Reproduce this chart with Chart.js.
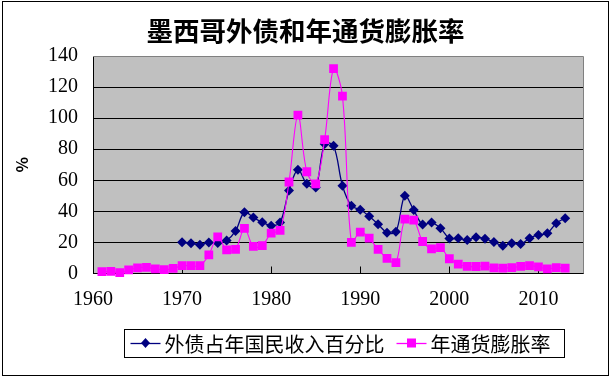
<!DOCTYPE html>
<html><head><meta charset="utf-8">
<script src="https://cdn.jsdelivr.net/npm/chart.js@4/dist/chart.umd.min.js"></script>
<style>html,body{margin:0;padding:0;background:#fff}#wrap{width:611px;height:377px}</style>
</head><body><div id="wrap"><canvas id="c" width="611" height="377"></canvas></div>
<script>
const titleText = '墨西哥外债和年通货膨胀率';
const seriesNames = ['外债占年国民收入百分比', '年通货膨胀率'];
const yAxisTitle = '%';
const years = [1961,1962,1963,1964,1965,1966,1967,1968,1969,1970,
  1971,1972,1973,1974,1975,1976,1977,1978,1979,1980,
  1981,1982,1983,1984,1985,1986,1987,1988,1989,1990,
  1991,1992,1993,1994,1995,1996,1997,1998,1999,2000,
  2001,2002,2003,2004,2005,2006,2007,2008,2009,2010,
  2011,2012,2013];
const debtRatio = [null,null,null,null,null,null,null,null,null,20.1,
  19.5,18.5,19.9,19.7,21.2,27.4,39.5,36.0,33.0,30.8,
  32.8,53.4,66.8,57.7,55.4,83.4,82.3,56.5,43.6,41.0,
  36.9,31.7,26.3,26.8,50.0,40.8,31.5,32.8,29.2,22.5,
  22.7,21.5,23.4,22.3,20.3,17.9,19.5,19.0,22.7,24.8,
  25.9,32.4,35.6];
const inflation = [1.2,1.3,0.5,2.3,3.6,4.0,3.0,2.5,3.3,5.0,
  5.0,5.0,12.0,23.6,15.2,15.6,29.0,17.4,17.9,26.0,
  27.7,58.9,101.9,65.5,57.7,86.2,131.8,114.2,20.0,26.7,
  22.7,15.5,9.8,7.0,35.0,34.4,20.6,15.9,16.6,9.5,
  6.0,4.6,4.5,4.7,3.6,3.5,3.8,4.6,5.1,4.2,
  3.0,3.8,3.5];
const xTicks = [1960,1970,1980,1990,2000,2010];
const yTicks = [0,20,40,60,80,100,120,140];

const NAVY = '#000080', MAGENTA = '#FF00FF';
const serif = "'Liberation Serif', 'Times New Roman', serif";
const cjk = "'Noto Sans CJK SC', sans-serif";

const framePlugin = {
  id: 'frame',
  afterLayout(chart) {
    const t = chart.titleBlock;
    if (t) { t.left += 12; t.right += 12; }
  },
  beforeDraw(chart) {
    const {ctx, chartArea: a} = chart;
    ctx.save();
    ctx.fillStyle = '#fff';
    ctx.fillRect(0, 0, chart.width, chart.height);
    ctx.fillStyle = '#C0C0C0';
    ctx.fillRect(a.left, a.top, a.right - a.left, a.bottom - a.top);
    ctx.restore();
  },
  beforeDatasetsDraw(chart) {
    const {ctx, chartArea: a, scales} = chart;
    ctx.save();
    ctx.strokeStyle = '#808080';
    ctx.lineWidth = 1;
    ctx.beginPath();
    ctx.moveTo(a.left, a.top + 0.5); ctx.lineTo(a.right + 0.5, a.top + 0.5);
    ctx.lineTo(a.right + 0.5, a.bottom);
    ctx.stroke();
    ctx.strokeStyle = '#000';
    ctx.beginPath();
    xTicks.forEach(v => {
      const px = Math.round(scales.x.getPixelForValue(v)) + 0.5;
      if (px > a.left + 2) { ctx.moveTo(px, a.bottom); ctx.lineTo(px, a.bottom - 7); }
    });
    ctx.stroke();
    ctx.restore();
  },
  afterDraw(chart) {
    const {ctx} = chart;
    ctx.save();
    ctx.font = '20px ' + cjk;
    ctx.textBaseline = 'middle';
    ctx.textAlign = 'left';
    const sampleW = 30, gap = 4, itemGap = 12;
    const widths = seriesNames.map(n => sampleW + gap + ctx.measureText(n).width);
    const total = widths.reduce((s, w) => s + w, 0) + itemGap * (widths.length - 1);
    const cx = 337.5, cy = 343;
    let x = cx - total / 2 + 3;
    const boxL = x - 7, boxR = x + total + 13;
    chart.data.datasets.forEach((ds, i) => {
      ctx.strokeStyle = ds.borderColor; ctx.lineWidth = 1.3;
      ctx.beginPath(); ctx.moveTo(x, cy + 0.5); ctx.lineTo(x + sampleW, cy + 0.5); ctx.stroke();
      ctx.fillStyle = ds.pointBackgroundColor;
      const mx = x + sampleW / 2;
      ctx.beginPath();
      if (ds.pointStyle === 'rectRot') {
        ctx.moveTo(mx - 4.5, cy); ctx.lineTo(mx, cy - 5); ctx.lineTo(mx + 4.5, cy); ctx.lineTo(mx, cy + 5); ctx.closePath();
      } else {
        ctx.rect(mx - 4.5, cy - 4.5, 9, 9);
      }
      ctx.fill();
      ctx.fillStyle = '#000';
      ctx.fillText(ds.label, x + sampleW + gap, cy + 1);
      x += widths[i] + itemGap;
    });
    ctx.strokeStyle = '#000'; ctx.lineWidth = 1;
    ctx.strokeRect(Math.round(boxL) + 0.5, 329.5, Math.round(boxR - boxL), 28);
    ctx.strokeRect(2.5, 1.5, 606, 374);
    ctx.restore();
  }
};

new Chart(document.getElementById('c'), {
  type: 'line',
  data: {
    datasets: [
      {
        label: seriesNames[0],
        data: years.map((yr, i) => ({x: yr, y: debtRatio[i]})),
        borderColor: NAVY, backgroundColor: NAVY,
        pointBackgroundColor: NAVY, pointBorderColor: NAVY,
        pointStyle: 'rectRot', pointRadius: 5, pointBorderWidth: 0,
        borderWidth: 1.3, tension: 0.35, order: 1, clip: 8
      },
      {
        label: seriesNames[1],
        data: years.map((yr, i) => ({x: yr, y: inflation[i]})),
        borderColor: MAGENTA, backgroundColor: MAGENTA,
        pointBackgroundColor: MAGENTA, pointBorderColor: MAGENTA,
        pointStyle: 'rect', pointRadius: 6.2, pointBorderWidth: 0,
        borderWidth: 1.1, tension: 0.35, order: 0, clip: 8
      }
    ]
  },
  options: {
    responsive: false, animation: false, devicePixelRatio: 1,
    layout: {padding: {left: 4, right: 28, top: 0, bottom: 4}},
    plugins: {
      legend: {display: false},
      tooltip: {enabled: false},
      title: {
        display: true, text: titleText, color: '#000',
        font: {family: cjk, size: 26.5, weight: 'bold'},
        padding: {top: 15, bottom: 9.2}
      }
    },
    scales: {
      x: {
        type: 'linear', min: 1960, max: 2015,
        afterBuildTicks: s => { s.ticks = xTicks.map(v => ({value: v})); },
        afterFit: s => { s.height = 99.5; },
        grid: {display: false, drawTicks: false},
        border: {display: true, color: '#000', width: 1},
        ticks: {font: {family: serif, size: 20}, color: '#000', padding: 14,
          maxRotation: 0, autoSkip: false, callback: v => String(v)}
      },
      y: {
        min: 0, max: 140,
        afterBuildTicks: s => { s.ticks = yTicks.map(v => ({value: v})); },
        afterFit: s => { s.width = 89; },
        grid: {color: c => c.tick && c.tick.value === 140 ? '#808080' : '#000', lineWidth: 1, drawTicks: false},
        border: {display: true, color: '#000', width: 1},
        title: {display: true, text: yAxisTitle, color: '#000', font: {family: cjk, size: 16, weight: 'bold'}, padding: {top: 8}},
        ticks: {font: {family: serif, size: 20}, color: '#000', padding: 15, callback: v => String(v)}
      }
    }
  },
  plugins: [framePlugin]
});
</script>
</body></html>
